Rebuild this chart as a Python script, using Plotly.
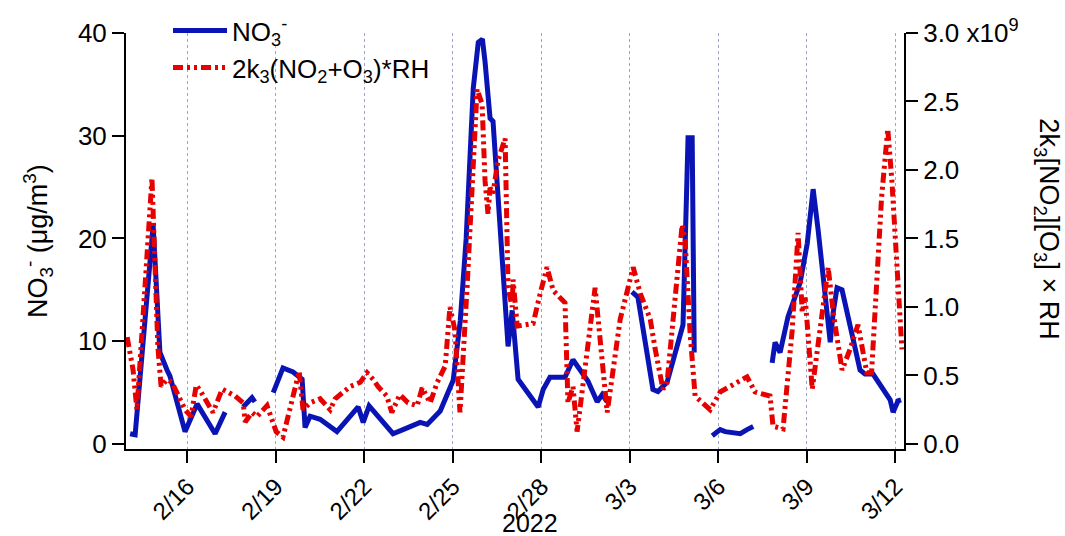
import pandas as pd
import plotly.graph_objects as go

# ---- data (time as days since 2022-02-16 00:00) ----
BASE = pd.Timestamp("2022-02-16")

no3_days = [
    [-1.94, -1.77, -1.16, -0.93, -0.69, -0.59, -0.08, 0.33, 0.94, 1.28],
    [1.89, 2.19, 2.29],
    [2.91, 3.24, 3.58, 3.89, 3.99, 4.16, 4.50, 4.84, 5.07, 5.79, 5.96, 6.16, 6.97, 7.31,
     7.89, 8.13, 8.57, 9.01, 9.25, 9.45, 9.69, 9.86, 10.00, 10.09, 10.26, 10.36, 10.77,
     10.87, 11.01, 11.21, 11.89, 12.06, 12.29, 12.80, 13.07, 13.58, 13.89, 14.06, 14.23],
    [15.07, 15.27, 15.78, 15.95, 16.26, 16.80, 16.97, 17.11, 17.18],
    [17.79, 18.06, 18.23, 18.74, 18.97, 19.18],
    [19.82, 19.92, 20.09, 20.36, 20.77, 21.01, 21.21, 21.38, 21.79, 21.89, 22.02, 22.19,
     22.80, 22.97, 23.24, 23.82, 23.92, 24.09, 24.19],
]
no3_vals = [
    [1.0, 0.9, 21.3, 8.9, 7.2, 6.6, 1.2, 3.9, 1.0, 3.1],
    [3.6, 4.5, 4.1],
    [5.0, 7.4, 7.0, 6.3, 1.6, 2.7, 2.4, 1.7, 1.2, 3.6, 2.1, 3.7, 1.0, 1.4,
     2.1, 1.9, 3.2, 6.2, 12.0, 20.0, 34.6, 39.1, 39.4, 37.2, 31.7, 31.4, 13.7,
     9.5, 13.0, 6.3, 3.6, 5.3, 6.5, 6.5, 8.2, 6.1, 4.1, 4.8, 4.1],
    [14.8, 14.3, 5.3, 5.1, 6.0, 11.6, 29.8, 29.8, 8.9],
    [0.8, 1.4, 1.2, 1.0, 1.4, 1.7],
    [7.9, 9.9, 8.9, 12.4, 15.7, 19.5, 24.8, 20.8, 9.9, 12.8, 15.2, 15.0,
     7.2, 6.8, 6.8, 4.3, 3.1, 4.2, 4.3],
]

k3_days = [
    -2.04, -1.84, -1.71, -1.60, -1.43, -1.20, -1.10, -1.00, -0.89, -0.69, -0.52, -0.08,
    0.13, 0.30, 0.46, 0.87, 1.18, 1.62, 1.89, 1.96, 2.19, 2.36, 2.70, 3.01, 3.24, 3.55,
    3.79, 3.92, 4.16, 4.50, 4.84, 5.01, 5.52, 5.86, 6.09, 6.30, 6.46, 6.76, 6.93, 7.20,
    7.48, 7.79, 7.96, 8.23, 8.47, 8.74, 8.90, 9.07, 9.24, 9.48, 9.69, 9.82, 9.99, 10.09,
    10.19, 10.26, 10.36, 10.53, 10.77, 10.87, 11.01, 11.04, 11.18, 11.72, 11.96, 12.19,
    12.40, 12.80, 12.90, 13.07, 13.21, 13.82, 13.96, 14.23, 14.67, 15.11, 15.35, 15.69,
    15.85, 16.12, 16.26, 16.77, 16.87, 17.04, 17.21, 17.72, 18.06, 18.63, 18.97, 19.24,
    19.75, 19.85, 20.19, 20.50, 20.70, 20.84, 20.94, 21.18, 21.45, 21.72, 21.89, 22.19,
    22.46, 22.73, 23.03, 23.19, 23.53, 23.74, 23.88, 24.22,
]
k3_vals = [  # units of 1e9
    0.78, 0.54, 0.25, 0.57, 1.17, 1.94, 1.32, 0.71, 0.42, 0.47, 0.45, 0.25,
    0.20, 0.43, 0.38, 0.23, 0.40, 0.35, 0.30, 0.16, 0.23, 0.20, 0.28, 0.09, 0.05, 0.33,
    0.53, 0.25, 0.30, 0.33, 0.25, 0.33, 0.42, 0.45, 0.52, 0.47, 0.42, 0.35, 0.23, 0.36,
    0.30, 0.28, 0.41, 0.30, 0.45, 0.57, 1.00, 0.83, 0.23, 1.14, 2.07, 2.59, 2.48, 1.92,
    1.68, 1.87, 1.83, 2.07, 2.23, 1.14, 1.00, 1.20, 0.86, 0.88, 1.10, 1.29,
    1.12, 1.03, 0.30, 0.42, 0.09, 1.14, 0.83, 0.23, 0.91, 1.29, 1.10, 0.91,
    0.70, 0.40, 0.45, 1.60, 1.49, 0.81, 0.35, 0.25, 0.38, 0.45, 0.49, 0.38,
    0.35, 0.13, 0.11, 0.83, 1.54, 0.96, 1.07, 0.40, 0.83, 1.29, 0.96, 0.54,
    0.69, 0.87, 0.52, 0.52, 1.80, 2.30, 1.92, 0.69,
]

tick_dates = ["2022-02-16", "2022-02-19", "2022-02-22", "2022-02-25", "2022-02-28",
              "2022-03-03", "2022-03-06", "2022-03-09", "2022-03-12"]
tick_labels = ["2/16", "2/19", "2/22", "2/25", "2/28", "3/3", "3/6", "3/9", "3/12"]
y1_ticks = [0, 10, 20, 30, 40]
y2_ticks = [0.0, 0.5, 1.0, 1.5, 2.0, 2.5, 3.0]
y2_labels = ["0.0", "0.5", "1.0", "1.5", "2.0", "2.5", "3.0 x10<sup>9</sup>"]
x_range_days = [-2.08, 24.29]


def to_time(days):
    return [BASE + pd.Timedelta(days=d) for d in days]


# build NO3 series with gaps between segments
no3_x, no3_y = [], []
for i, (dd, vv) in enumerate(zip(no3_days, no3_vals)):
    if i > 0:
        no3_x.append(None)
        no3_y.append(None)
    no3_x += to_time(dd)
    no3_y += vv

FONT = "Liberation Sans, Arial, Helvetica, sans-serif"
BLUE = "#0a14b4"
RED = "#e60000"

fig = go.Figure()
fig.add_trace(go.Scatter(
    x=no3_x, y=no3_y, mode="lines", name="NO<sub>3</sub><sup>-</sup>",
    line=dict(color=BLUE, width=5), connectgaps=False,
))
fig.add_trace(go.Scatter(
    x=to_time(k3_days), y=k3_vals, mode="lines", yaxis="y2",
    name="2k<sub>3</sub>(NO<sub>2</sub>+O<sub>3</sub>)*RH",
    line=dict(color=RED, width=5, dash="10px,4px,3px,4px,3px,4px"),
))

y1_range = [-0.49, 40]
fig.update_layout(
    width=1065, height=536,
    margin=dict(l=126, r=161, t=33, b=87, autoexpand=False),
    paper_bgcolor="white", plot_bgcolor="white",
    font=dict(family=FONT, size=26, color="black"),
    showlegend=True,
    legend=dict(x=0.054, y=1.062, xanchor="left", yanchor="top",
                bgcolor="rgba(0,0,0,0)", font=dict(size=26), itemwidth=54,
                tracegroupgap=0),
    xaxis=dict(
        type="date",
        range=to_time(x_range_days),
        tickvals=tick_dates, ticktext=tick_labels, tickangle=-45,
        tickfont=dict(size=24),
        ticks="outside", ticklen=12, tickwidth=2, tickcolor="black",
        showline=True, linecolor="black", linewidth=2,
        showgrid=True, gridcolor="#9ea4d0", griddash="dot", gridwidth=1,
        zeroline=False, automargin=False,
    ),
    yaxis=dict(
        range=y1_range, tickvals=y1_ticks,
        ticks="outside", ticklen=12, tickwidth=2, tickcolor="black",
        showline=True, linecolor="black", linewidth=2,
        showgrid=False, zeroline=False, tickfont=dict(size=26), automargin=False,
    ),
    yaxis2=dict(
        overlaying="y", side="right",
        range=[y1_range[0] * 0.075, 3.0],
        tickvals=y2_ticks, ticktext=y2_labels,
        ticks="outside", ticklen=12, tickwidth=2, tickcolor="black",
        showline=True, linecolor="black", linewidth=2,
        showgrid=False, zeroline=False, tickfont=dict(size=26), automargin=False,
    ),
    annotations=[
        dict(text="2022", xref="paper", yref="paper", x=0.519, y=-0.178,
             showarrow=False, font=dict(size=25), xanchor="center", yanchor="middle"),
        dict(text="NO<sub>3</sub><sup>-</sup> (μg/m<sup>3</sup>)", xref="paper", yref="paper",
             x=-0.113, y=0.5, textangle=-90, showarrow=False, font=dict(size=27),
             xanchor="center", yanchor="middle"),
        dict(text="2k<sub>3</sub>[NO<sub>2</sub>][O<sub>3</sub>] × RH", xref="paper",
             yref="paper", x=1.184, y=0.53, textangle=90, showarrow=False,
             font=dict(size=27), xanchor="center", yanchor="middle"),
    ],
)

fig.write_html("out.html")
